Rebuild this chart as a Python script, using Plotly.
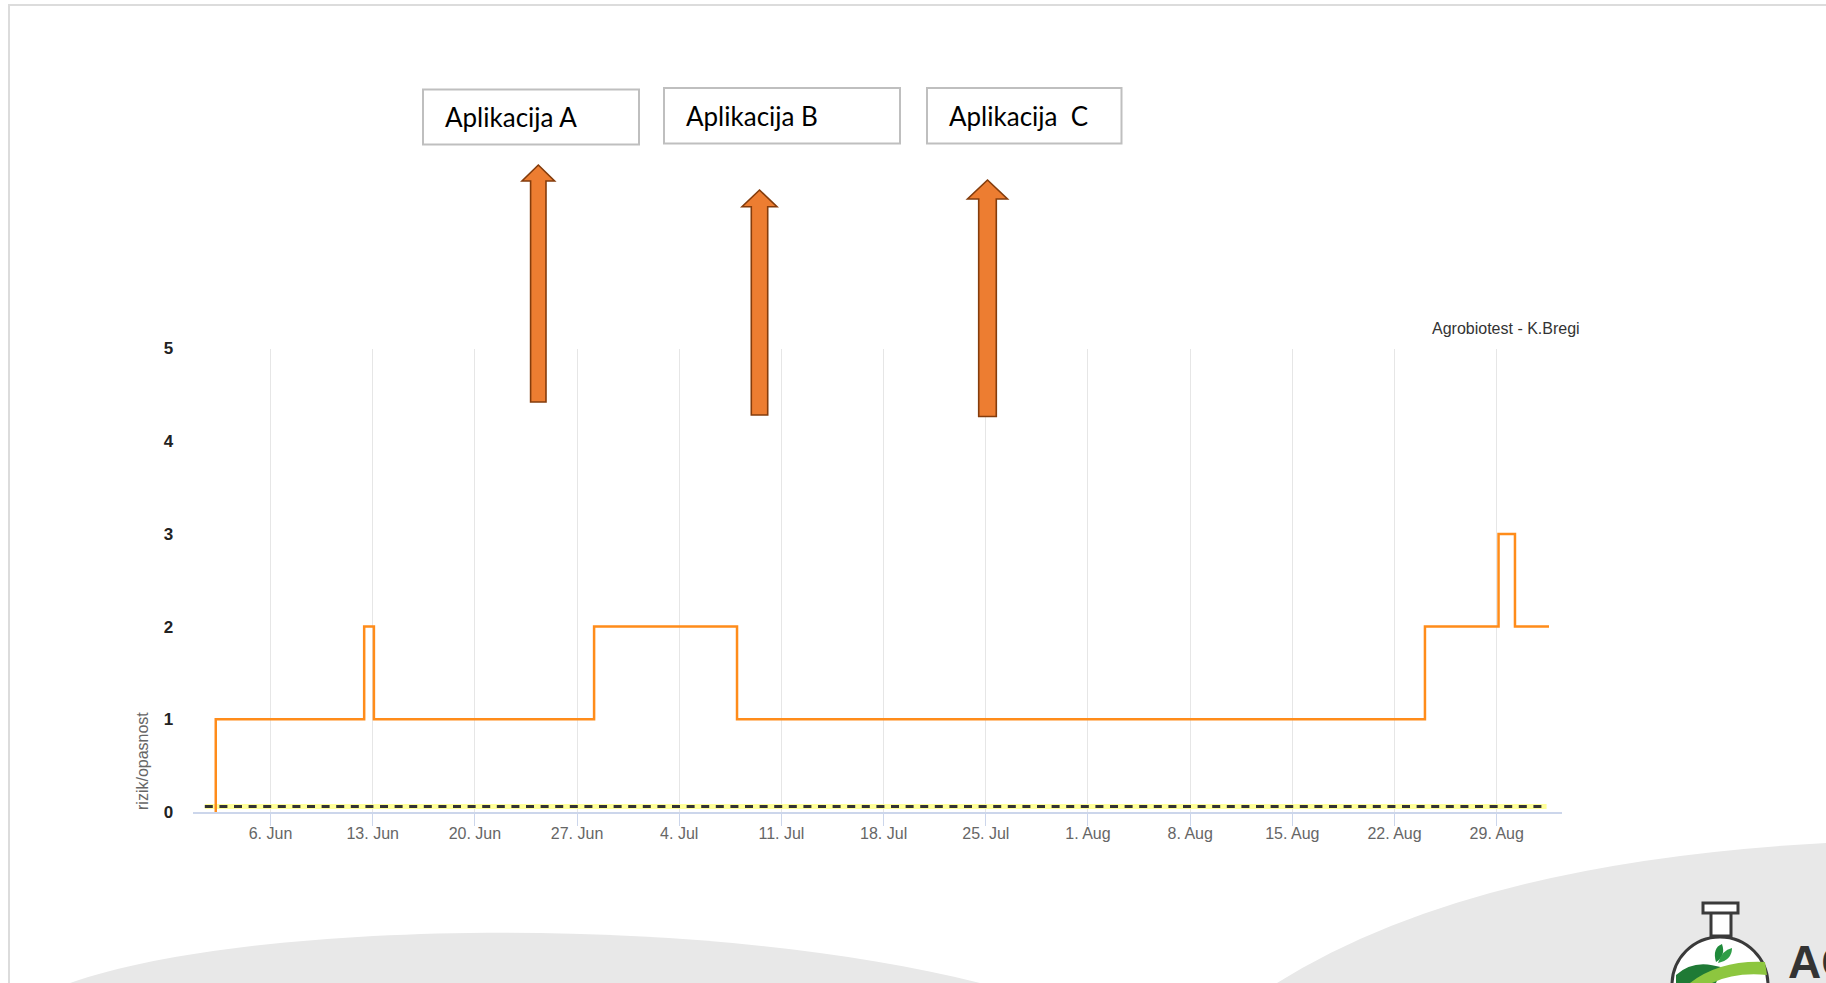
import plotly.graph_objects as go

# ---------------- data ----------------
risk_times = ["2022-06-02 06:00", "2022-06-02 06:00", "2022-06-12 10:00", "2022-06-13 02:00",
              "2022-06-28 04:00", "2022-07-07 23:00", "2022-08-24 02:00", "2022-08-29 03:00",
              "2022-08-30 06:00", "2022-09-01 14:00"]
risk_values = [0, 1, 2, 1, 2, 1, 2, 3, 2, 2]

threshold_times = ["2022-06-01 12:00", "2022-09-01 10:00"]
threshold_values = [0.06, 0.06]

tick_dates = ["2022-06-06", "2022-06-13", "2022-06-20", "2022-06-27", "2022-07-04", "2022-07-11",
              "2022-07-18", "2022-07-25", "2022-08-01", "2022-08-08", "2022-08-15", "2022-08-22",
              "2022-08-29"]
tick_labels = ["6. Jun", "13. Jun", "20. Jun", "27. Jun", "4. Jul", "11. Jul", "18. Jul",
               "25. Jul", "1. Aug", "8. Aug", "15. Aug", "22. Aug", "29. Aug"]
y_ticks = [0, 1, 2, 3, 4, 5]

box_labels = ["Aplikacija A", "Aplikacija B", "Aplikacija \u00a0C"]
chart_title = "Agrobiotest - K.Bregi"
y_title = "rizik/opasnost"

# ---------------- layout helpers (pixel -> paper) ----------------
W, H = 1826, 983


def X(px):
    return px / W


def Y(py):
    return 1 - py / H


def P(cmds):
    out = []
    for c in cmds:
        op = c[0]
        nums = c[1:]
        pts = []
        for i in range(0, len(nums), 2):
            pts.append(f"{X(nums[i]):.5f},{Y(nums[i+1]):.5f}")
        out.append(op + " " + " ".join(pts))
    return " ".join(out)


fig = go.Figure()

# threshold line (yellow halo + dark dashes)
fig.add_trace(go.Scatter(x=threshold_times, y=threshold_values, mode="lines",
                         line=dict(color="#ffff99", width=5), hoverinfo="skip", showlegend=False))
fig.add_trace(go.Scatter(x=threshold_times, y=threshold_values, mode="lines",
                         line=dict(color="#333333", width=3, dash="8px,6.6px"),
                         hoverinfo="skip", showlegend=False))
# risk step line
fig.add_trace(go.Scatter(x=risk_times, y=risk_values, mode="lines",
                         line=dict(color="#ff8c1a", width=2.5, shape="hv"),
                         showlegend=False))

shapes = []
# slide border lines
shapes.append(dict(type="line", xref="paper", yref="paper", x0=X(8), x1=X(1826), y0=Y(5), y1=Y(5),
                   line=dict(color="#dcdcdc", width=2), layer="below"))
shapes.append(dict(type="line", xref="paper", yref="paper", x0=X(9), x1=X(9), y0=Y(5), y1=Y(983),
                   line=dict(color="#dcdcdc", width=2), layer="below"))
# background arcs
shapes.append(dict(type="path", xref="paper", yref="paper", layer="below",
                   path=P([("M", 70, 983), ("C", 250, 920, 700, 912, 980, 983), ("Z",)]),
                   fillcolor="#e8e8e8", line=dict(width=0)))
shapes.append(dict(type="path", xref="paper", yref="paper", layer="below",
                   path=P([("M", 1277, 983), ("Q", 1470, 862, 1826, 843), ("L", 1826, 983), ("Z",)]),
                   fillcolor="#e8e8e8", line=dict(width=0)))

# boxes
boxes = [(423, 89.5, 639, 144.5), (664, 88, 900, 143.5), (927, 88, 1121.5, 143.5)]
for (x0, y0, x1, y1) in boxes:
    shapes.append(dict(type="rect", xref="paper", yref="paper", x0=X(x0), x1=X(x1), y0=Y(y1), y1=Y(y0),
                       fillcolor="white", line=dict(color="#bfbfbf", width=2), layer="above"))

# block arrows: (tip_x, tip_y, head_base_y, head_half, shaft_half, bottom_y)
arrows = [(538.3, 165, 181, 16.3, 7.7, 402), (759.5, 190, 206.7, 17.5, 8.2, 415),
          (987.5, 180, 199, 20, 8.8, 416.5)]
for (tx, ty, hb, hh, sh, by) in arrows:
    shapes.append(dict(type="path", xref="paper", yref="paper", layer="above",
                       path=P([("M", tx, ty), ("L", tx + hh, hb), ("L", tx + sh, hb), ("L", tx + sh, by),
                               ("L", tx - sh, by), ("L", tx - sh, hb), ("L", tx - hh, hb), ("Z",)]),
                       fillcolor="#ed7d31", line=dict(color="#843c0c", width=1.6)))

# logo: flask
shapes.append(dict(type="circle", xref="paper", yref="paper", x0=X(1672), x1=X(1768), y0=Y(1033), y1=Y(937),
                   fillcolor="white", line=dict(color="#3a3a3a", width=3), layer="above"))
shapes.append(dict(type="path", xref="paper", yref="paper", layer="above",
                   path=P([("M", 1676, 975), ("Q", 1695, 958, 1722, 968), ("L", 1716, 983), ("L", 1676, 983), ("Z",)]),
                   fillcolor="#1f7a35", line=dict(width=0)))
shapes.append(dict(type="path", xref="paper", yref="paper", layer="above",
                   path=P([("M", 1690, 983), ("Q", 1720, 960, 1765, 962), ("L", 1767, 975),
                           ("Q", 1735, 972, 1712, 983), ("Z",)]),
                   fillcolor="#8dc63f", line=dict(width=0)))
shapes.append(dict(type="path", xref="paper", yref="paper", layer="above",
                   path=P([("M", 1716, 962), ("Q", 1712, 948, 1722, 944), ("Q", 1726, 956, 1716, 962), ("Z",)]),
                   fillcolor="#1f8a3b", line=dict(width=0)))
shapes.append(dict(type="path", xref="paper", yref="paper", layer="above",
                   path=P([("M", 1718, 963), ("Q", 1722, 950, 1732, 948), ("Q", 1732, 960, 1718, 963), ("Z",)]),
                   fillcolor="#2f9e47", line=dict(width=0)))
shapes.append(dict(type="path", xref="paper", yref="paper", layer="above",
                   path=P([("M", 1711, 912), ("L", 1711, 936), ("L", 1731, 936), ("L", 1731, 912)]),
                   fillcolor="white", line=dict(color="#3a3a3a", width=3)))
shapes.append(dict(type="rect", xref="paper", yref="paper", x0=X(1703), x1=X(1738), y0=Y(913), y1=Y(903),
                   fillcolor="white", line=dict(color="#3a3a3a", width=3), layer="above"))

annotations = []
text_pos = [(442.5, 117), (683.6, 116), (946.8, 116)]
for (tx, ty), lab in zip(text_pos, box_labels):
    annotations.append(dict(x=X(tx), y=Y(ty), xref="paper", yref="paper", xanchor="left", yanchor="middle",
                            text=lab, showarrow=False,
                            font=dict(family="Lato, Open Sans, sans-serif", size=26, color="#000000")))
annotations.append(dict(x=X(1582), y=Y(329), xref="paper", yref="paper", xanchor="right", yanchor="middle",
                        text=chart_title, showarrow=False,
                        font=dict(family="Liberation Sans, Arial, sans-serif", size=16, color="#333333")))
annotations.append(dict(x=X(142), y=Y(761), xref="paper", yref="paper", xanchor="center", yanchor="middle",
                        text=y_title, textangle=-90, showarrow=False,
                        font=dict(family="Liberation Sans, Arial, sans-serif", size=16, color="#666666")))
annotations.append(dict(x=X(1786), y=Y(934), xref="paper", yref="paper", xanchor="left", yanchor="top",
                        text="<b>AGRO</b>", showarrow=False,
                        font=dict(family="Liberation Sans Narrow, Liberation Sans, Arial, sans-serif",
                                  size=46, color="#333333")))

fig.update_layout(
    width=W, height=H,
    margin=dict(l=0, r=0, t=0, b=0),
    paper_bgcolor="white", plot_bgcolor="rgba(0,0,0,0)",
    shapes=shapes, annotations=annotations,
    xaxis=dict(type="date", range=["2022-05-31 16:05", "2022-09-02 10:50"],
               domain=[X(192.7), X(1561.7)],
               tickmode="array", tickvals=tick_dates, ticktext=tick_labels,
               showgrid=True, gridcolor="#e6e6e6", gridwidth=1,
               ticks="outside", ticklen=12, tickcolor="#ccd6eb", tickwidth=1,
               ticklabelstandoff=-6,
               showline=True, linecolor="#ccd6eb", linewidth=2,
               tickfont=dict(family="Liberation Sans, Arial, sans-serif", size=16, color="#666666"),
               zeroline=False, fixedrange=True, automargin=False),
    yaxis=dict(range=[0, 5], domain=[Y(812), Y(348.5)],
               tickmode="array", tickvals=y_ticks,
               showgrid=False, zeroline=False, showline=False,
               ticks="outside", ticklen=15, tickcolor="rgba(0,0,0,0)",
               tickfont=dict(family="Liberation Sans, Arial, sans-serif", size=17, color="#222222",
                             weight="bold"),
               fixedrange=True, automargin=False),
)

fig.write_html(
    "out.html",
    config={"displayModeBar": False},
    post_script=("document.documentElement.style.margin='0px';"
                 "document.documentElement.style.overflow='hidden';"
                 "document.body.style.margin='0px';document.body.style.padding='0px';"
                 "document.body.style.overflow='hidden';"),
)
